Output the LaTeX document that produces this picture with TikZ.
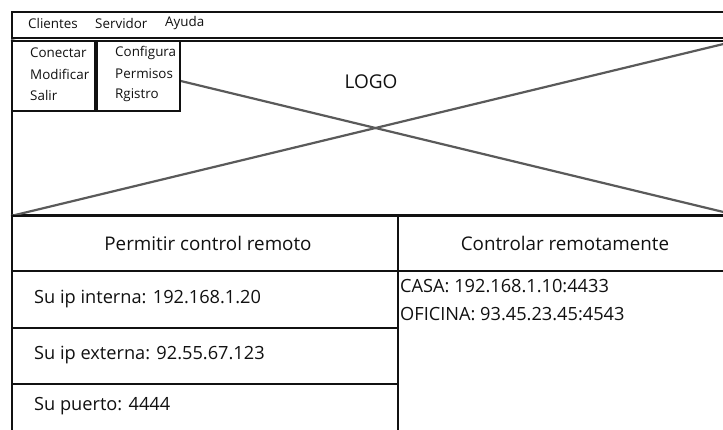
\documentclass[tikz,border=0pt]{standalone}
\usepackage{fontspec}
\setmainfont{Open Sans}
\usetikzlibrary{positioning}
\definecolor{ink}{HTML}{111111}
\definecolor{xgray}{HTML}{5A5A5A}
\tikzset{
  frame/.style={draw=ink,line width=2pt,fill=white,inner sep=0pt,anchor=north west},
  menutxt/.style={font=\fontsize{13.4}{15}\selectfont,text=ink,anchor=west,inner sep=0pt},
  bodytxt/.style={font=\fontsize{18.2}{21}\selectfont,text=ink,anchor=west,inner sep=0pt},
  headtxt/.style={font=\fontsize{18.8}{22}\selectfont,text=ink,inner sep=0pt},
  xline/.style={draw=xgray,line width=2.2pt}
}
\begin{document}
\begin{tikzpicture}[x=1pt,y=-1pt]
\path[use as bounding box] (0,0) rectangle (723,429);
% menu bar
\node[frame,minimum width=729pt,minimum height=26pt] (bar) at (11,11) {};
\node[menutxt] (mclientes) at (28,23) {Clientes};
\node[menutxt] (mservidor) at (95,23) {Servidor};
\node[menutxt] (mayuda) at (165,23) {Ayuda};
% image placeholder
\node[frame,minimum width=727pt,minimum height=174pt] (logo) at (11,40) {};
\draw[xline] (logo.south west)--(logo.north east);
\draw[xline] (logo.north west)--(logo.south east);
\node[font=\fontsize{19}{22}\selectfont,text=ink] (logotxt) at (371,82) {LOGO};
% drop-down menus
\node[frame,minimum width=83pt,minimum height=70pt] (drop1) at (11,40) {};
\node[frame,minimum width=83pt,minimum height=70pt] (drop2) at (96,40) {};
\node[menutxt] (conectar) at (30,53) {Conectar};
\node[menutxt] (modificar) at (30,74) {Modificar};
\node[menutxt] (salir) at (30,95) {Salir};
\node[menutxt] (configura) at (115,53) {Configura};
\node[menutxt] (permisos) at (115,74) {Permisos};
\node[menutxt] (rgistro) at (115,95) {Rgistro};
% left column
\node[frame,minimum width=386pt,minimum height=55pt] (lhead) at (11,215) {};
\node[frame,minimum width=386pt,minimum height=57pt] (lrow1) at (11,270) {};
\node[frame,minimum width=386pt,minimum height=56pt] (lrow2) at (11,327) {};
\node[frame,minimum width=386pt,minimum height=60pt] (lrow3) at (11,383) {};
\node[headtxt] at (208,243) {Permitir control remoto};
\node[bodytxt] (ipin) at (34,299) {Su ip interna: 192.168.1.20};
\node[bodytxt] (ipex) at (34,355) {Su ip externa: 92.55.67.123};
\node[bodytxt] (puerto) at (34,406) {Su puerto: 4444};
% right column
\node[frame,minimum width=343pt,minimum height=55pt] (rhead) at (397,215) {};
\node[frame,minimum width=343pt,minimum height=170pt] (rbody) at (397,270) {};
\node[headtxt] at (565,243) {Controlar remotamente};
\node[bodytxt] (casa) at (400,286) {CASA: 192.168.1.10:4433};
\node[bodytxt] (oficina) at (400,314) {OFICINA: 93.45.23.45:4543};
\end{tikzpicture}
\end{document}
